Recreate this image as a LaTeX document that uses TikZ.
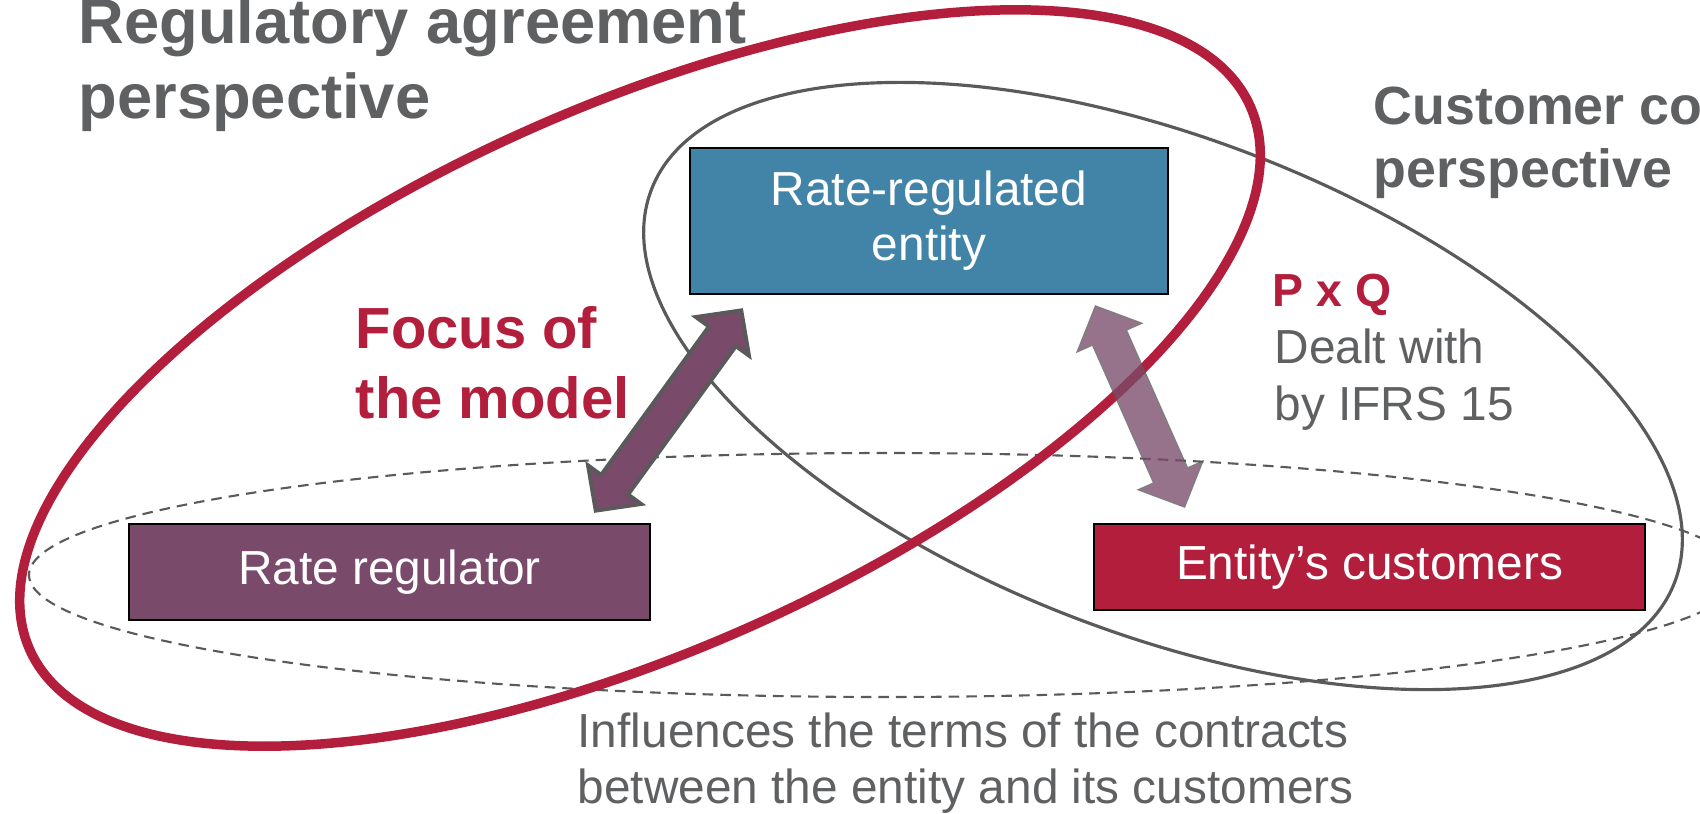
\documentclass[tikz,border=0pt]{standalone}
\usepackage{fontspec}
\setmainfont{Liberation Sans}
\usepackage{tikz}
\usetikzlibrary{arrows.meta,calc}
\definecolor{textgray}{RGB}{95,96,98}
\definecolor{linegray}{RGB}{90,90,90}
\definecolor{agreered}{RGB}{179,30,60}
\definecolor{entityblue}{RGB}{65,132,168}
\definecolor{regpurple}{RGB}{122,74,107}

\begin{document}
\begin{tikzpicture}[
    box/.style={draw=black, line width=0.6pt, text=white, align=center, inner sep=0pt, font=\fontsize{13.6}{15.6}\selectfont},
    heading/.style={anchor=base west, align=left, inner sep=0pt, text=textgray, font=\bfseries\fontsize{18}{21.3}\selectfont},
    note/.style={anchor=base west, align=left, inner sep=0pt, text=textgray, font=\fontsize{13.6}{16.2}\selectfont},
    focusarrow/.style={draw=regpurple, line width=8.3pt, shorten <=1.6pt, shorten >=1.6pt,
        {Triangle[length=7.7pt,width=15.3pt]}-{Triangle[length=7.7pt,width=15.3pt]},
        preaction={draw=linegray, line width=10.6pt, shorten <=0pt, shorten >=0pt,
        {Triangle[length=10.5pt,width=20.8pt]}-{Triangle[length=10.5pt,width=20.8pt]}}},
    pqarrow/.style={draw=regpurple, line width=10.1pt, shorten <=0.6pt, shorten >=0.6pt,
        {Triangle[length=9.3pt,width=18.5pt]}-{Triangle[length=9.3pt,width=18.5pt]},
        preaction={draw=linegray, line width=10.9pt, shorten <=0pt, shorten >=0pt,
        {Triangle[length=10.3pt,width=20.4pt]}-{Triangle[length=10.3pt,width=20.4pt]}}}
]
\useasboundingbox (0,0) rectangle (17,-8.13);

% perspectives
\draw[linegray, line width=0.6pt, dash pattern=on 3pt off 2pt] (8.85,-5.75) ellipse [x radius=8.56, y radius=1.22];
\draw[linegray, line width=0.9pt, rotate around={-21:(11.63,-3.86)}] (11.63,-3.86) ellipse [x radius=5.48, y radius=2.48];
\draw[agreered, line width=2.7pt, rotate around={24:(6.40,-3.78)}] (6.40,-3.78) ellipse [x radius=6.68, y radius=2.72];

\node[box, fill=entityblue, minimum width=4.78cm, minimum height=1.46cm] (entity) at (9.29,-2.21) {Rate-regulated\\entity};
\node[box, fill=regpurple, minimum width=5.21cm, minimum height=0.96cm] (regulator) at (3.895,-5.72) {Rate regulator};
\node[box, fill=agreered, minimum width=5.51cm, minimum height=0.86cm] (customers) at (13.695,-5.67) {Entity’s customers};

\coordinate (fa-top) at ($(entity.south west)+(0.54,-0.13)$);
\coordinate (fa-bot) at ($(regulator.north east)+(-0.57,0.10)$);
\coordinate (pq-top) at ($(entity.south east)+(-0.74,-0.10)$);
\coordinate (pq-bot) at ($(customers.north west)+(0.92,0.15)$);

\draw[focusarrow] (fa-bot) -- (fa-top);
\begin{scope}[transparency group, opacity=0.78]
\draw[pqarrow] (pq-top) -- (pq-bot);
\end{scope}

% labels (base = last line)
\node[heading] (regtitle) at (0.78,-1.18) {Regulatory agreement\\perspective};
\node[heading, font=\bfseries\fontsize{15.3}{17.9}\selectfont] (custtitle) at (13.73,-1.87) {Customer contract\\perspective};
\node[heading, text=agreered, font=\bfseries\fontsize{16.5}{19.9}\selectfont] (focus) at (3.55,-4.18) {Focus of\\the model};
\node[heading, text=agreered, font=\bfseries\fontsize{13.2}{15.6}\selectfont] (pxq) at (12.72,-3.06) {P x Q};
\node[note] (ifrs) at (12.74,-4.20) {Dealt with\\by IFRS 15};
\node[note, font=\fontsize{13.6}{15.9}\selectfont] (influence) at (5.77,-8.03) {Influences the terms of the contracts\\between the entity and its customers};

\end{tikzpicture}
\end{document}
